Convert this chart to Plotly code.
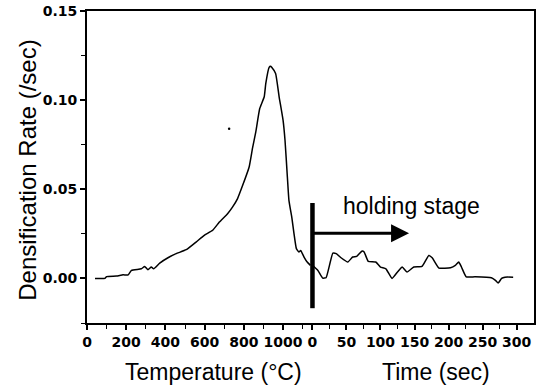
import plotly.graph_objects as go

# ---- data ----
temp_c = [41, 91, 100, 150, 184, 210, 227, 277, 294, 311, 328, 340, 371, 413, 455, 506,
          556, 598, 641, 675, 717, 742, 768, 794, 827, 844, 861, 881, 904, 912, 929, 936,
          942, 962, 980, 1000, 1010, 1022, 1030, 1045, 1056, 1068, 1081, 1090, 1107, 1123, 1140]
temp_rate = [0.0, 0.0, 0.001, 0.0013, 0.002, 0.002, 0.0045, 0.0054, 0.0067, 0.0049, 0.0064,
             0.0054, 0.0086, 0.0116, 0.0139, 0.0161, 0.0204, 0.0242, 0.027, 0.0316, 0.0363,
             0.040, 0.0448, 0.0522, 0.0625, 0.0729, 0.0822, 0.0953, 0.1019, 0.1094, 0.1184,
             0.1190, 0.1184, 0.115, 0.1019, 0.0888, 0.0775, 0.0569, 0.0438, 0.034, 0.025,
             0.0167, 0.0148, 0.0157, 0.012, 0.0092, 0.0073]

time_s = [0, 8, 15, 20, 30, 35, 42, 52, 59, 65, 73, 76, 82, 93, 100, 108, 117, 125, 132,
          139, 149, 161, 171, 176, 186, 203, 210, 215, 219, 226, 239, 263, 269, 273, 278, 283, 295]
time_rate = [0.0073, 0.0045, 0.0002, 0.0004, 0.0142, 0.0139, 0.0116, 0.0092, 0.012, 0.0124,
             0.0154, 0.0148, 0.0096, 0.0092, 0.0064, 0.0054, 0.0, 0.0036, 0.0064, 0.0036,
             0.0064, 0.0067, 0.0129, 0.0116, 0.0058, 0.006, 0.0073, 0.0092, 0.0064, 0.0009,
             0.0009, 0.0004, -0.0011, -0.0026, 0.0, 0.0007, 0.0007]

speck_c = [725]
speck_rate = [0.084]

temp_ticks = [0, 200, 400, 600, 800, 1000]
temp_minor = [100, 300, 500, 700, 900, 1100]
time_ticks = [0, 50, 100, 150, 200, 250, 300]
time_minor = [25, 75, 125, 175, 225, 275]
y_ticks = [0.0, 0.05, 0.10, 0.15]
y_minor = [-0.025, 0.025, 0.075, 0.125]

holding_t0 = 0
holding_line = [-0.0167, 0.0423]
arrow_end_t = 142
arrow_rate = 0.0254
label_t = 145
label_rate = 0.0406

# combined axis: temperature in degC, time mapped after an offset
TIME_OFFSET = 1150
TIME_SCALE = 3.47


def tmap(t):
    return TIME_OFFSET + TIME_SCALE * t


fig = go.Figure()
line_style = dict(color="black", width=1.5, shape="spline", smoothing=0.4)
fig.add_trace(go.Scatter(x=temp_c, y=temp_rate, mode="lines", line=line_style))
fig.add_trace(go.Scatter(x=[tmap(t) for t in time_s], y=time_rate, mode="lines", line=line_style))
fig.add_trace(go.Scatter(x=speck_c, y=speck_rate, mode="markers",
                         marker=dict(color="black", size=2.5)))
fig.add_trace(go.Scatter(x=[tmap(holding_t0)] * 2, y=holding_line, mode="lines",
                         line=dict(color="black", width=4.5)))

fig.add_annotation(x=tmap(arrow_end_t), y=arrow_rate, ax=tmap(holding_t0), ay=arrow_rate,
                   xref="x", yref="y", axref="x", ayref="y", text="", showarrow=True,
                   arrowhead=2, arrowsize=1.2, arrowwidth=3, arrowcolor="black")
fig.add_annotation(x=tmap(label_t), y=label_rate, xref="x", yref="y", text="holding stage",
                   showarrow=False, xanchor="center", yanchor="middle",
                   font=dict(family="Liberation Sans", size=23, color="black"))

title_font = dict(family="Liberation Sans", size=23, color="black")
fig.add_annotation(x=0.283, y=-0.157, xref="paper", yref="paper", text="Temperature (°C)",
                   showarrow=False, font=title_font, xanchor="center", yanchor="middle")
fig.add_annotation(x=0.78, y=-0.157, xref="paper", yref="paper", text="Time (sec)",
                   showarrow=False, font=title_font, xanchor="center", yanchor="middle")
fig.add_annotation(x=-0.135, y=0.49, xref="paper", yref="paper", text="Densification Rate (/sec)",
                   showarrow=False, font=dict(family="Liberation Sans", size=24, color="black"),
                   textangle=-90, xanchor="center", yanchor="middle")

xt_vals = temp_ticks + [tmap(t) for t in time_ticks]
xt_text = [f"<b>{v}</b>" for v in temp_ticks] + [f"<b>{v}</b>" for v in time_ticks]
xm_vals = temp_minor + [tmap(t) for t in time_minor]

tick_font = dict(family="DejaVu Sans", size=14, color="black")

fig.update_xaxes(range=[0, 2280], tickmode="array", tickvals=xt_vals, ticktext=xt_text,
                 ticks="outside", ticklen=5, tickwidth=1.5, tickcolor="black",
                 showline=True, linecolor="black", linewidth=1.5, mirror=True,
                 showgrid=False, zeroline=False, tickfont=tick_font,
                 minor=dict(tickmode="array", tickvals=xm_vals, ticks="outside",
                            ticklen=4, tickwidth=1.2, tickcolor="black", showgrid=False))
fig.update_yaxes(range=[-0.025, 0.15], tickmode="array", tickvals=y_ticks,
                 ticktext=[f"<b>{v:.2f}</b>" for v in y_ticks],
                 ticks="outside", ticklen=5, tickwidth=1.5, tickcolor="black",
                 showline=True, linecolor="black", linewidth=1.8, mirror=True,
                 showgrid=False, zeroline=False, tickfont=tick_font,
                 minor=dict(tickmode="array", tickvals=y_minor, ticks="outside",
                            ticklen=4, tickwidth=1.2, tickcolor="black", showgrid=False))

fig.update_layout(width=539, height=387, margin=dict(l=87, r=3, t=10, b=64),
                  paper_bgcolor="white", plot_bgcolor="white", showlegend=False)

fig.write_html("out.html")
